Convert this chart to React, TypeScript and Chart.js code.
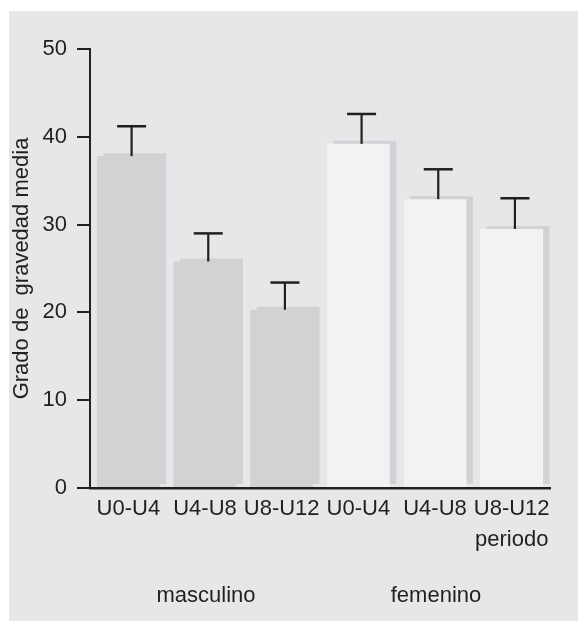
import React, { useEffect, useRef } from 'react';
import { Chart, registerables } from 'chart.js';

Chart.register(...registerables);

// ---- data ----
const categories: (string | string[])[] = ['U0-U4', 'U4-U8', 'U8-U12', 'U0-U4', 'U4-U8', ['U8-U12', 'periodo']];
const groups = ['masculino', 'femenino'];
const groupOf = [0, 0, 0, 1, 1, 1];
const means = [37.8, 25.8, 20.3, 39.2, 32.9, 29.5];
const errors = [3.4, 3.2, 3.1, 3.4, 3.4, 3.5];
const yTitle = 'Grado de  gravedad media';
const yMin = 0;
const yMax = 50;
const yStep = 10;

// ---- styles ----
const FONT = "'Liberation Sans', Arial, Helvetica, sans-serif";
const DARK = '#231f20';
const PANEL = '#e6e7e9';
const MASC = '#d1d2d4';
const FEM = '#f1f2f4';
const SHADOW = '#d1d2d4';
const SHADOW_DX = 6.5;
const SHADOW_DY = 3;
const CAP = 29;

const W = 578;
const H = 621;

const backgroundPlugin = {
  id: 'panelBg',
  beforeDraw(chart: any) {
    const ctx = chart.ctx;
    ctx.save();
    ctx.fillStyle = '#ffffff';
    ctx.fillRect(0, 0, chart.width, chart.height);
    ctx.fillStyle = PANEL;
    ctx.fillRect(9, 11, chart.width - 9, chart.height - 11);
    ctx.restore();
  },
};

const shadowPlugin = {
  id: 'barShadow',
  beforeDatasetsDraw(chart: any) {
    const ctx = chart.ctx;
    const meta = chart.getDatasetMeta(0);
    ctx.save();
    ctx.fillStyle = SHADOW;
    meta.data.forEach((el: any) => {
      const { x, y, width, base } = el.getProps(['x', 'y', 'width', 'base'], true);
      ctx.fillRect(x - width / 2 + SHADOW_DX, y - SHADOW_DY, width, base - y);
    });
    ctx.restore();
  },
};

const errorPlugin = {
  id: 'errorBars',
  afterDatasetsDraw(chart: any) {
    const ctx = chart.ctx;
    const meta = chart.getDatasetMeta(0);
    const yScale = chart.scales.y;
    ctx.save();
    ctx.strokeStyle = DARK;
    ctx.lineCap = 'butt';
    meta.data.forEach((el: any, i: number) => {
      const { x, y } = el.getProps(['x', 'y'], true);
      const cx = x + SHADOW_DX / 2;
      const yTop = yScale.getPixelForValue(means[i] + errors[i]);
      ctx.lineWidth = 2.2;
      ctx.beginPath();
      ctx.moveTo(cx, y);
      ctx.lineTo(cx, yTop);
      ctx.stroke();
      ctx.lineWidth = 2.5;
      ctx.beginPath();
      ctx.moveTo(cx - CAP / 2, yTop);
      ctx.lineTo(cx + CAP / 2, yTop);
      ctx.stroke();
    });
    ctx.restore();
  },
};

export default function App() {
  const canvasRef = useRef<HTMLCanvasElement | null>(null);

  useEffect(() => {
    if (!canvasRef.current) return;
    const chart = new Chart(canvasRef.current, {
      type: 'bar',
      data: {
        labels: categories as any,
        datasets: [
          {
            data: means,
            backgroundColor: (c: any) => (groupOf[c.dataIndex] === 0 ? MASC : FEM),
            borderWidth: 0,
            barPercentage: 0.82,
            categoryPercentage: 1,
            xAxisID: 'x',
            yAxisID: 'y',
          },
        ],
      },
      options: {
        animation: false,
        responsive: false,
        devicePixelRatio: 1,
        layout: { padding: { left: 9, top: 49, right: 28, bottom: 0 } },
        plugins: {
          legend: { display: false },
          tooltip: { enabled: false },
        },
        scales: {
          x: {
            type: 'category',
            position: 'bottom',
            offset: true,
            weight: 0,
            z: 1,
            grid: { display: false, drawTicks: false, tickLength: 0 },
            border: { display: true, color: DARK, width: 2.5 },
            ticks: {
              color: DARK,
              font: { family: FONT, size: 22, lineHeight: 1.42 },
              padding: 5,
              labelOffset: 0,
              maxRotation: 0,
              autoSkip: false,
            },
            afterFit: (s: any) => {
              s.height = 70;
            },
          },
          x2: {
            type: 'category',
            position: 'bottom',
            labels: groups,
            offset: true,
            weight: 1,
            grid: { display: false, drawTicks: false, tickLength: 0 },
            border: { display: false },
            ticks: {
              color: DARK,
              font: { family: FONT, size: 22, lineHeight: 1.2 },
              padding: 25,
              labelOffset: 1,
              maxRotation: 0,
              autoSkip: false,
            },
            afterFit: (s: any) => {
              s.height = 63;
            },
          },
          y: {
            type: 'linear',
            min: yMin,
            max: yMax,
            ticks: {
              stepSize: yStep,
              color: DARK,
              font: { family: FONT, size: 22 },
              padding: 10,
            },
            grid: {
              drawOnChartArea: false,
              drawTicks: true,
              tickLength: 13,
              color: DARK,
              lineWidth: 2,
            },
            border: { display: true, color: DARK, width: 2 },
            title: {
              display: true,
              text: yTitle,
              color: DARK,
              font: { family: FONT, size: 22, lineHeight: 1.2 },
              padding: 0,
            },
            afterFit: (s: any) => {
              s.width = 81;
            },
          },
        } as any,
      },
      plugins: [backgroundPlugin, shadowPlugin, errorPlugin],
    });
    return () => chart.destroy();
  }, []);

  return (
    <div style={{ position: 'fixed', left: 0, top: 0, width: W, height: H }}>
      <canvas ref={canvasRef} width={W} height={H} style={{ display: 'block', width: W, height: H }} />
    </div>
  );
}
